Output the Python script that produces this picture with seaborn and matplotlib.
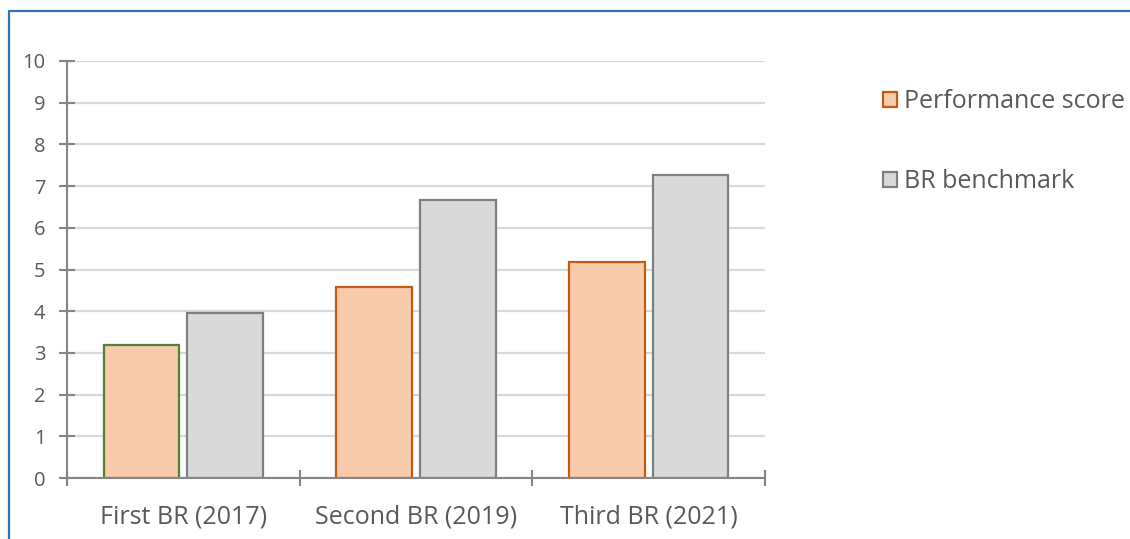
import matplotlib
matplotlib.use("Agg")
import matplotlib.pyplot as plt
from matplotlib.lines import Line2D
import seaborn as sns
import pandas as pd

categories = ["First BR (2017)", "Second BR (2019)", "Third BR (2021)"]
series_names = ["Performance score", "BR benchmark"]
performance_score = [3.2, 4.57, 5.17]
br_benchmark = [3.95, 6.66, 7.27]
y_ticks = [0, 1, 2, 3, 4, 5, 6, 7, 8, 9, 10]

df = pd.DataFrame({
    "category": categories * 2,
    "series": [series_names[0]] * 3 + [series_names[1]] * 3,
    "value": performance_score + br_benchmark,
})

sns.set_theme(style="white")
plt.rcParams["font.family"] = ["Open Sans", "DejaVu Sans"]
TEXT = "#595959"
AXIS = "#868686"
GRID = "#D9D9D9"

fig = plt.figure(figsize=(11.3, 5.39), dpi=100)
ax = fig.add_axes([67 / 1130, 1 - 478 / 539, (765 - 67) / 1130, (478 - 61) / 539])

fills = {series_names[0]: "#F8CBAD", series_names[1]: "#D9D9D9"}
edges = ["#C55A11", "#7F7F7F"]
sns.barplot(data=df, x="category", y="value", hue="series", order=categories,
            hue_order=series_names, palette=fills, saturation=1, width=0.718, gap=0.095,
            linewidth=1.6, ax=ax, legend=False, zorder=3)

for cont, ec in zip(ax.containers, edges):
    for bar in cont:
        bar.set_edgecolor(ec)
        bar.set_linewidth(1.6)
ax.containers[0][0].set_edgecolor("#548235")

ax.set_ylim(0, 10)
ax.set_xlim(-0.5, 2.5)
ax.set_yticks(y_ticks)
ax.set_yticklabels([str(t) for t in y_ticks])
ax.yaxis.grid(True, color=GRID, linewidth=1.6, zorder=0)
ax.set_axisbelow(True)

ax.set_xticks([-0.5, 0.5, 1.5, 2.5])
ax.set_xticklabels([])
ax.set_xticks([0, 1, 2], minor=True)
ax.set_xticklabels(categories, minor=True)
ax.tick_params(axis="x", which="major", direction="inout", length=12, width=1.5, color=AXIS, bottom=True)
ax.tick_params(axis="x", which="minor", length=0, pad=19, labelsize=18, labelcolor=TEXT, bottom=True)
ax.tick_params(axis="y", direction="inout", length=11, width=1.5, color=AXIS, pad=10,
               labelsize=14.5, labelcolor=TEXT, left=True)
ax.set_xlabel("")
ax.set_ylabel("")

for s in ["top", "right"]:
    ax.spines[s].set_visible(False)
for s in ["left", "bottom"]:
    ax.spines[s].set_color(AXIS)
    ax.spines[s].set_linewidth(1.5)
    ax.spines[s].set_zorder(4)

handles = [plt.Rectangle((0, 0), 1, 1, facecolor=fills[n], edgecolor=e, linewidth=1.6)
           for n, e in zip(series_names, edges)]
leg = fig.legend(handles, series_names, loc="upper left",
                 bbox_to_anchor=(883 / 1130, 1 - 89 / 539), frameon=False,
                 fontsize=18, labelcolor=TEXT, handlelength=0.55, handleheight=0.55,
                 handletextpad=0.3, labelspacing=2.22, borderpad=0, borderaxespad=0)

border = "#2E75B6"
fig.add_artist(Line2D([9 / 1130, 1], [1 - 11 / 539, 1 - 11 / 539], color=border, linewidth=1.6,
                      transform=fig.transFigure))
fig.add_artist(Line2D([9 / 1130, 9 / 1130], [0, 1 - 11 / 539], color=border, linewidth=1.6,
                      transform=fig.transFigure))

fig.savefig("out.png", dpi=100)
